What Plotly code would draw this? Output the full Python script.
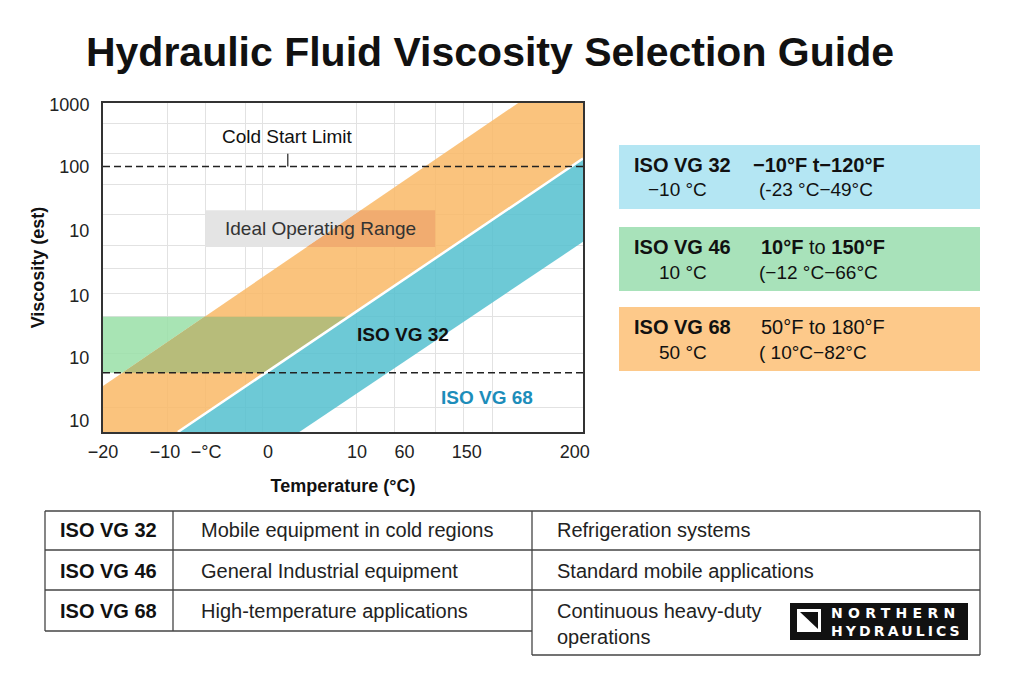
import plotly.graph_objects as go

W, H = 1024, 683
OFF = 8  # page body margin compensation (px)

# ---------------- data ----------------
x_tick_pos = [0, 12.9, 21.5, 34.4, 52.9, 62.8, 75.8, 98.3]
x_tick_labels = ["−20", "−10", "−°C", "0", "10", "60", "150", "200"]
y_tick_pos = [3.3, 22.6, 41.4, 61.1, 80.7, 99.6]
y_tick_labels = ["10", "10", "10", "10", "100", "1000"]

grid_x = [13.5, 21.3, 29.7, 33.3, 52.9, 60.8, 69.2, 75.2, 81.2]
grid_y = [7.6, 24.0, 35.0, 42.2, 49.8, 56.8, 66.0, 75.1, 84.8, 93.9]

# band edges (scale position units)
vg68_top_x = [0, 86.5]
vg68_top_y = [14, 100]
vg_split_x = [15.6, 100]
vg_split_y = [0, 83.1]
vg32_bottom_x = [40.9, 100]
vg32_bottom_y = [0, 57.8]

green_zone_y = [18.0, 35.0]
cold_start_level = 80.7
low_limit_level = 18.0
ideal_box_x = [21.3, 69.2]
ideal_box_y = [56.2, 67.4]

grades = ["ISO VG 32", "ISO VG 46", "ISO VG 68"]
box_temp_c = ["−10 °C", "10 °C", "50 °C"]
box_range_f = ["<b>−10°F t−120°F</b>", "<b>10°F</b> to <b>150°F</b>", "50°F to 180°F"]
box_range_c = ["(-23 °C−49°C", "(−12 °C−66°C", "( 10°C−82°C"]
box_colors = ["#B4E6F3", "#A8E2BA", "#FDC98A"]

table_primary = ["Mobile equipment in cold regions", "General Industrial equipment",
                 "High-temperature applications"]
table_secondary = ["Refrigeration systems", "Standard mobile applications",
                   "Continuous heavy-duty<br>operations"]

logo_lines = ["NORTHERN", "HYDRAULICS"]

FONT = "Liberation Sans, Arial, sans-serif"
X0, X1, Y0, Y1 = 0, 100, 0, 100


def line_fns(xs, ys):
    m = (ys[1] - ys[0]) / (xs[1] - xs[0])
    return (lambda x: ys[0] + m * (x - xs[0])), (lambda y: xs[0] + (y - ys[0]) / m)


up_y, up_x = line_fns(vg68_top_x, vg68_top_y)
mid_y, mid_x = line_fns(vg_split_x, vg_split_y)
low_y, low_x = line_fns(vg32_bottom_x, vg32_bottom_y)

fig = go.Figure()


def poly(pts, color):
    xs = [p[0] for p in pts] + [pts[0][0]]
    ys = [p[1] for p in pts] + [pts[0][1]]
    fig.add_trace(go.Scatter(x=xs, y=ys, fill="toself", fillcolor=color, mode="lines",
                             line=dict(width=0, color=color), hoverinfo="skip",
                             showlegend=False))


# orange band
poly([(X0, Y0), (mid_x(Y0), Y0), (X1, mid_y(X1)), (X1, Y1), (up_x(Y1), Y1), (X0, up_y(X0))],
     "rgba(249,184,102,0.85)")
# teal band
poly([(mid_x(Y0), Y0), (low_x(Y0), Y0), (X1, low_y(X1)), (X1, mid_y(X1))],
     "rgba(84,191,207,0.85)")
# green zone
g0, g1 = green_zone_y
poly([(X0, g0), (up_x(g0), g0), (up_x(g1), g1), (X0, g1)], "rgba(153,223,167,0.85)")
poly([(up_x(g0), g0), (mid_x(g0), g0), (mid_x(g1), g1), (up_x(g1), g1)], "rgb(183,188,122)")
# ideal operating range box
b0, b1 = ideal_box_y
bx0, bx1 = ideal_box_x
poly([(bx0, b0), (up_x(b0), b0), (up_x(b1), b1), (bx0, b1)], "rgb(228,228,228)")
poly([(up_x(b0), b0), (bx1, b0), (bx1, b1), (up_x(b1), b1)], "rgb(241,172,112)")

# white divider
fig.add_trace(go.Scatter(x=[mid_x(Y0), X1], y=[Y0, mid_y(X1)], mode="lines",
                         line=dict(color="white", width=2.5), hoverinfo="skip", showlegend=False))
# dashed limits
for lvl in [cold_start_level, low_limit_level]:
    fig.add_trace(go.Scatter(x=[X0, X1], y=[lvl, lvl], mode="lines",
                             line=dict(color="#222", width=1.6, dash="7px,4px"),
                             hoverinfo="skip", showlegend=False))

ann = []


def dtext(x, y, text, size, color):
    ann.append(dict(x=x, y=y, xref="x", yref="y", text=text, showarrow=False,
                    xanchor="center", yanchor="middle",
                    font=dict(size=size, color=color, family=FONT)))


dtext(38.5, 89.7, "Cold Start Limit", 19, "#111")
ann.append(dict(x=38.5, y=cold_start_level, ax=38.5, ay=85.0, xref="x", yref="y", axref="x",
                ayref="y", text="", showarrow=True, arrowhead=0, arrowwidth=1.2,
                arrowcolor="#222"))
dtext((bx0 + bx1) / 2, (b0 + b1) / 2, "Ideal Operating Range", 19, "#333")
dtext(62.5, 29.5, "<b>ISO VG 32</b>", 19, "#111")
dtext(80.0, 10.6, "<b>ISO VG 68</b>", 19, "#1C8DBA")


def px(x):
    return (x - OFF) / W


def py(y):
    return 1 - (y - OFF) / H


def ptext(x, y, text, size, color, xanchor="left", family=FONT, weight=None, align="left"):
    f = dict(size=size, color=color, family=family)
    if weight:
        f["weight"] = weight
    ann.append(dict(x=px(x), y=py(y), xref="paper", yref="paper", xanchor=xanchor,
                    yanchor="middle", text=text, showarrow=False, align=align, font=f))


shapes = []
# right info boxes
box_tops = [145, 227, 307]
for i, top in enumerate(box_tops):
    shapes.append(dict(type="rect", xref="paper", yref="paper", x0=px(619), x1=px(980),
                       y0=py(top), y1=py(top + 64), fillcolor=box_colors[i], line=dict(width=0),
                       layer="below"))
    ptext(632, top + 20, "<b>" + grades[i] + "</b>", 20, "#111")
    ptext(709, top + 45, box_temp_c[i], 19, "#111", xanchor="right")
    ptext(887, top + 20, box_range_f[i], 20, "#111", xanchor="right")
    ptext(757, top + 45, box_range_c[i], 19, "#111")

# table
LC = "#444"


def hline(x0, x1, y):
    shapes.append(dict(type="line", xref="paper", yref="paper", x0=px(x0), x1=px(x1),
                       y0=py(y), y1=py(y), line=dict(color=LC, width=1.3)))


def vline(x, y0, y1):
    shapes.append(dict(type="line", xref="paper", yref="paper", x0=px(x), x1=px(x),
                       y0=py(y0), y1=py(y1), line=dict(color=LC, width=1.3)))


hline(45, 980, 511)
hline(45, 980, 550)
hline(45, 980, 590)
hline(45, 532, 631)
hline(532, 980, 655)
vline(45, 511, 631)
vline(173, 511, 631)
vline(532, 511, 655)
vline(980, 511, 655)

row_centers = [530, 571, 611]
for i, yc in enumerate(row_centers):
    ptext(58, yc, "<b>" + grades[i] + "</b>", 20, "#111")
    ptext(199, yc, table_primary[i], 20, "#222")
    yy = yc if "<br>" not in table_secondary[i] else yc + 12.5
    ptext(555, yy, table_secondary[i], 20, "#222")

# logo
shapes.append(dict(type="rect", xref="paper", yref="paper", x0=px(790), x1=px(968),
                   y0=py(603), y1=py(640), fillcolor="#111", line=dict(width=0)))
shapes.append(dict(type="rect", xref="paper", yref="paper", x0=px(797), x1=px(821),
                   y0=py(609), y1=py(632), fillcolor="white", line=dict(width=0)))
shapes.append(dict(type="path", xref="paper", yref="paper",
                   path=f"M {px(800)} {py(612)} L {px(818)} {py(612)} L {px(818)} {py(629)} Z",
                   fillcolor="#111", line=dict(width=0)))
logo_text = (f'<span style="letter-spacing:5.3px">{logo_lines[0]}</span><br>'
             f'<span style="letter-spacing:3.1px">{logo_lines[1]}</span>')
ptext(829, 621.5, logo_text, 14, "white", family="DejaVu Sans", weight="bold")

fig.update_layout(
    width=W, height=H,
    margin=dict(l=0, r=0, t=0, b=0),
    paper_bgcolor="white", plot_bgcolor="white",
    font=dict(family=FONT, color="#222"),
    title=dict(text="<b>Hydraulic Fluid Viscosity Selection Guide</b>", x=px(490),
               y=py(52), xanchor="center", yanchor="middle",
               font=dict(size=41, color="#111", family=FONT)),
    xaxis=dict(domain=[px(103), px(583)], range=[X0, X1], tickmode="array",
               tickvals=x_tick_pos, ticktext=x_tick_labels, ticks="outside", ticklen=2,
               tickcolor="rgba(0,0,0,0)", tickfont=dict(size=18, color="#222"),
               showgrid=False, zeroline=False, showline=True, mirror=True,
               linecolor="#333", linewidth=2, automargin=False,
               minor=dict(tickmode="array", tickvals=grid_x, showgrid=True,
                          gridcolor="#E2E2E2", gridwidth=1, ticks=""),
               title=dict(text="<b>Temperature (°C)</b>", standoff=19,
                          font=dict(size=18, color="#111"))),
    yaxis=dict(domain=[py(432), py(103)], range=[Y0, Y1], tickmode="array",
               tickvals=y_tick_pos, ticktext=y_tick_labels, ticks="outside", ticklen=8,
               tickcolor="rgba(0,0,0,0)", tickfont=dict(size=18, color="#222"),
               showgrid=False, zeroline=False, showline=True, mirror=True,
               linecolor="#333", linewidth=2, automargin=False,
               minor=dict(tickmode="array", tickvals=grid_y, showgrid=True,
                          gridcolor="#E2E2E2", gridwidth=1, ticks=""),
               title=dict(text="<b>Viscosity (est)</b>", standoff=0,
                          font=dict(size=18, color="#111"))),
    shapes=shapes,
    annotations=ann,
)

fig.write_html("out.html")
